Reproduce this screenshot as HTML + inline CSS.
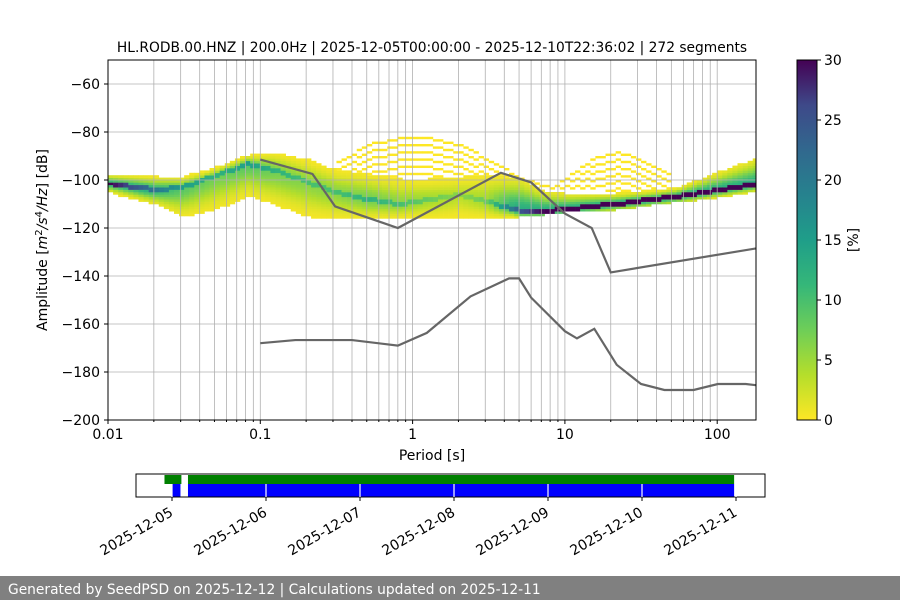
<!DOCTYPE html>
<html><head><meta charset="utf-8"><style>
body{margin:0;background:#fff;width:900px;height:600px;overflow:hidden;font-family:"Liberation Sans","DejaVu Sans",sans-serif}
text{font-family:"DejaVu Sans","Liberation Sans",sans-serif}
</style></head><body>
<svg id="s" width="900" height="600" viewBox="0 0 900 600">
<defs><linearGradient id="cb" x1="0" y1="1" x2="0" y2="0">
<stop offset="0" stop-color="#fde725"/><stop offset="0.125" stop-color="#b5de2b"/><stop offset="0.25" stop-color="#6ece58"/><stop offset="0.375" stop-color="#35b779"/><stop offset="0.5" stop-color="#1f9e89"/><stop offset="0.625" stop-color="#26828e"/><stop offset="0.75" stop-color="#31688e"/><stop offset="0.875" stop-color="#3e4989"/><stop offset="1" stop-color="#440154"/></linearGradient>
<clipPath id="pc"><rect x="108" y="60" width="648" height="360"/></clipPath></defs>
<g id="heat" clip-path="url(#pc)"></g>
<g id="grid"></g>
<g id="models" clip-path="url(#pc)"></g>
<rect x="108" y="60" width="648" height="360" fill="none" stroke="#000" stroke-width="1"/>
<g id="axes"></g>
<text x="432" y="52" text-anchor="middle" font-size="13.8">HL.RODB.00.HNZ | 200.0Hz | 2025-12-05T00:00:00 - 2025-12-10T22:36:02 | 272 segments</text>
<text x="432" y="460" text-anchor="middle" font-size="14">Period [s]</text>
<text transform="translate(47,240) rotate(-90)" text-anchor="middle" font-size="14">Amplitude [<tspan font-style="italic">m</tspan><tspan font-size="10" dy="-5">2</tspan><tspan dy="5" font-style="italic">/s</tspan><tspan font-size="10" dy="-5">4</tspan><tspan dy="5" font-style="italic">/Hz</tspan>] [dB]</text>
<rect x="797" y="60" width="20" height="360" fill="url(#cb)" stroke="#000" stroke-width="1"/>
<g id="cbax"></g>
<text transform="translate(858,240) rotate(-90)" text-anchor="middle" font-size="14">[%]</text>
<g id="tl"></g>
<rect x="0" y="576" width="900" height="24" fill="#808080"/>
<text x="8" y="594" font-size="13.8" fill="#fff">Generated by SeedPSD on 2025-12-12 | Calculations updated on 2025-12-11</text>
</svg>
<script>
const NS='http://www.w3.org/2000/svg';
// ---- data ----
const ctrlPeriods=[0.01,0.02,0.03,0.05,0.08,0.12,0.2,0.3,0.5,0.8,1.2,2,3,5,7,10,20,50,100,180];
const modeDb=[-101.5,-104,-103,-98,-93,-96,-101,-105,-108,-110,-108,-106,-109,-113,-113,-112,-110,-107,-104,-101.5];
const loDb=[-105,-110,-115,-112,-106,-110,-115,-116,-116,-116,-116,-116,-116,-115,-114,-113,-112,-109,-107,-104];
const hiDb=[-98,-99,-99,-95,-90,-89,-92,-96,-98,-100,-100,-99,-98,-100,-105,-106,-106,-104,-97,-91];
const peakPct=[30,20,15,12,15,12,10,10,12,10,8,6,8,25,30,30,30,30,30,30];
const sparsePeriods=[0.3,0.5,0.8,1.2,2,3,5,8,12,16,22,30,50];
const sparseDb=[-94,-86,-83,-83,-86,-92,-100,-104,-96,-91,-89,-92,-99];
const nhnmP=[0.1,0.22,0.31,0.8,3.8,6,10,15,20,180];
const nhnmDb=[-91.5,-97.5,-111,-120,-97,-101,-114,-120,-138.5,-128.5];
const nlnmP=[0.1,0.17,0.4,0.8,1.24,2.4,4.3,5,6,10,12,15.6,21.9,31.6,45,70,101,154,180];
const nlnmDb=[-168,-166.7,-166.7,-169,-163.7,-148.5,-141,-141,-149,-163,-166,-162,-177,-185,-187.5,-187.5,-185,-185,-185.5];
const yTicks=[-60,-80,-100,-120,-140,-160,-180,-200];
const xTickLabels=['0.01','0.1','1','10','100'];
const cbTicks=[0,5,10,15,20,25,30];
const days=['2025-12-05','2025-12-06','2025-12-07','2025-12-08','2025-12-09','2025-12-10','2025-12-11'];
const greenSpans=[[-0.08,0.1],[0.17,5.98]];
const blueSpans=[[0.0,0.09],[0.17,5.98]];
// ---- scales ----
const X=p=>108+(Math.log10(p)+2)*152.3;
const Y=d=>420-(d+200)*2.4;
const T=day=>172+day*94;
function el(t,a,par){const e=document.createElementNS(NS,t);for(const k in a)e.setAttribute(k,a[k]);(par||document.getElementById('s')).appendChild(e);return e;}
function interp(p,xs,ys){const l=Math.log10(p);if(l<=Math.log10(xs[0]))return ys[0];for(let i=0;i<xs.length-1;i++){const a=Math.log10(xs[i]),b=Math.log10(xs[i+1]);if(l<=b){const t=(l-a)/(b-a);return ys[i]+t*(ys[i+1]-ys[i]);}}return ys[ys.length-1];}
const vir=[[253,231,37],[181,222,43],[110,206,88],[53,183,121],[31,158,137],[38,130,142],[49,104,142],[62,73,137],[68,1,84]];
function col(pc){let t=Math.max(0,Math.min(1,pc/30))*8;const i=Math.min(7,Math.floor(t));const f=t-i;const c=vir[i].map((v,k)=>Math.round(v+f*(vir[i+1][k]-v)));return `rgb(${c})`;}
// heatmap
const heat=document.getElementById('heat');
for(let l=-2;l<2.26;l+=1/30){
  const p=Math.pow(10,l),p2=Math.pow(10,l+1/30);
  const m=interp(p,ctrlPeriods,modeDb),lo=interp(p,ctrlPeriods,loDb),hi=interp(p,ctrlPeriods,hiDb),pk=interp(p,ctrlPeriods,peakPct);
  for(let d=Math.floor(lo);d<Math.ceil(hi);d++){
    const dist=d+0.5-m;
    let pc;
    if(Math.abs(dist)<1.0)pc=pk;
    else{const sig=dist>0?Math.max(1.5,(hi-m)/2.2):Math.max(1.5,(m-lo)/2.2);
      pc=Math.max(0.5,Math.min(pk*0.6,13)*Math.exp(-(dist*dist)/(2*sig*sig)));}
    const r=el('rect',{x:X(p),y:Y(d+1),width:X(p2)-X(p)+0.3,height:2.7,fill:col(pc)},heat);
    
    
  }
  if(p>=0.3&&p<=50){const sd=interp(p,sparsePeriods,sparseDb);const top=interp(p,ctrlPeriods,hiDb);
    for(let d=Math.round(sd);d>top;d-=3){const r=el('rect',{x:X(p),y:Y(d+1),width:X(p2)-X(p)+0.3,height:2.4,fill:'#fde725'},heat);
    
    }}
}
// grid
const g=document.getElementById('grid');
for(let e=-2;e<=2;e++)for(let k=1;k<=9;k++){const p=k*Math.pow(10,e);if(p>180)break;const x=X(p);if(x<=108.5)continue;
  const ln=el('line',{x1:x,y1:60,x2:x,y2:420,stroke:'#b0b0b0','stroke-width':0.8},g);
  
  }
yTicks.forEach(v=>{const ln=el('line',{x1:108,y1:Y(v),x2:756,y2:Y(v),stroke:'#b0b0b0','stroke-width':0.8},g);
  
  });
// models
const mg=document.getElementById('models');
[[nhnmP,nhnmDb,'nhnm-line'],[nlnmP,nlnmDb,'nlnm-line']].forEach(([ps,ds,n])=>{
  const pl=el('polyline',{points:ps.map((p,i)=>X(p)+','+Y(ds[i])).join(' '),fill:'none',stroke:'#666','stroke-width':2.2},mg);
  
  });
// axes
const ax=document.getElementById('axes');
yTicks.forEach(v=>{el('line',{x1:104,y1:Y(v),x2:108,y2:Y(v),stroke:'#000'},ax);
  const t=el('text',{x:100,y:Y(v)+5,'text-anchor':'end','font-size':14},ax);t.textContent='\u2212'+Math.abs(v);
  
  });
xTickLabels.forEach(s=>{const x=X(parseFloat(s));el('line',{x1:x,y1:420,x2:x,y2:424,stroke:'#000'},ax);
  const t=el('text',{x:x,y:439,'text-anchor':'middle','font-size':14},ax);t.textContent=s;
  
  });
for(let e=-2;e<=2;e++)for(let k=2;k<=9;k++){const p=k*Math.pow(10,e);if(p>180)break;el('line',{x1:X(p),y1:420,x2:X(p),y2:422,stroke:'#000'},ax);}
// colorbar
const cba=document.getElementById('cbax');
cbTicks.forEach(v=>{const y=420-v/30*360;el('line',{x1:817,y1:y,x2:821,y2:y,stroke:'#000'},cba);
  const t=el('text',{x:824,y:y+5,'font-size':14},cba);t.textContent=v;
  
  });
// timeline
const tl=document.getElementById('tl');
greenSpans.forEach(([a,b])=>{const r=el('rect',{x:T(a),y:475,width:T(b)-T(a),height:9,fill:'#008000'},tl);
  
  });
blueSpans.forEach(([a,b])=>{const r=el('rect',{x:T(a),y:484,width:T(b)-T(a),height:13,fill:'#0000ff'},tl);
  
  });
el('rect',{x:136,y:474,width:629,height:23,fill:'none',stroke:'#000'},tl);
days.forEach((d,i)=>{const x=T(i);el('line',{x1:x,y1:484,x2:x,y2:497,stroke:'#fff','stroke-width':1.2},tl);el('line',{x1:x,y1:497,x2:x,y2:501,stroke:'#000'},tl);
  const t=el('text',{transform:`translate(${x+2},${515}) rotate(-30)`,'text-anchor':'end','font-size':14},tl);t.textContent=d;
  
  });
</script>
</body></html>
